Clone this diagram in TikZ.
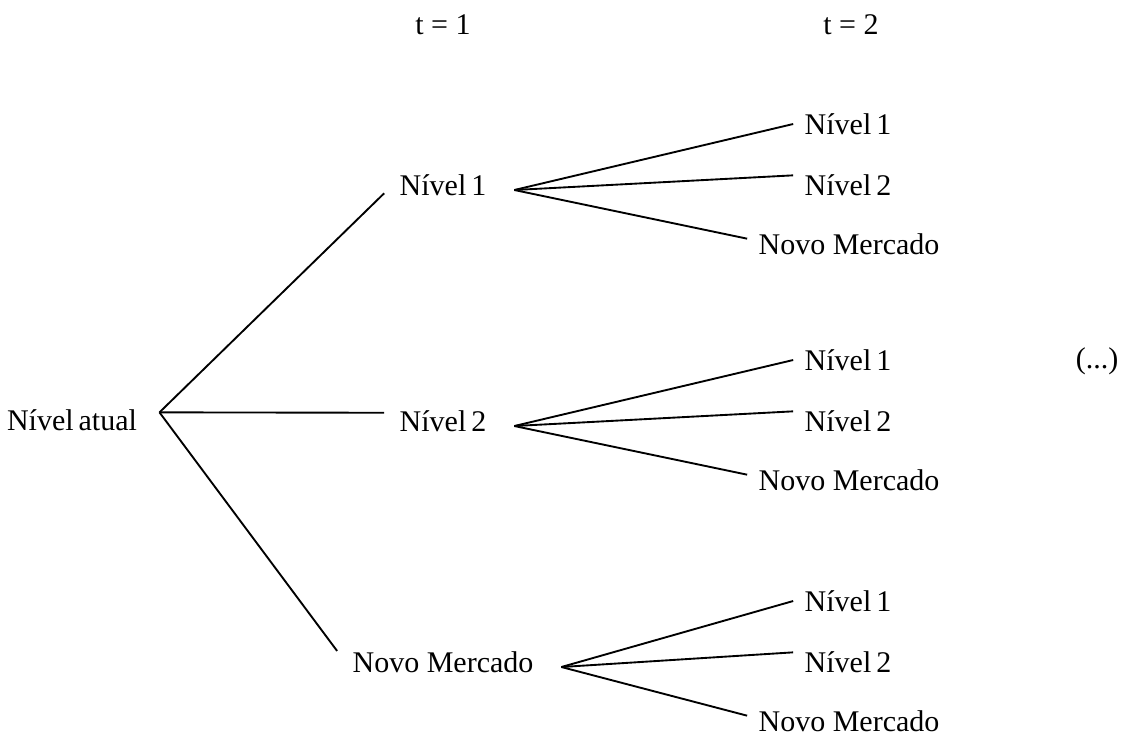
\documentclass[tikz,border=0pt]{standalone}
\usepackage{fontspec}
\setmainfont{Liberation Serif}

\tikzset{
  rotulo/.style={inner sep=0pt, font=\fontsize{12}{14}\selectfont},
  raiz/.style={rotulo, inner xsep=8.8pt},
  meio/.style={rotulo, inner xsep=6pt},
  folha/.style={rotulo, inner xsep=4.4pt},
  ramo/.style={line width=0.75pt},
}

\begin{document}
\begin{tikzpicture}[x=0.4pt, y=-0.4pt]

    \useasboundingbox (0,0) rectangle (1126,736);

    % 时间
    \node[rotulo] (t1) at (443,25) {t = 1};
    \node[rotulo] (t2) at (851,25) {t = 2};

    % 根节点
    \node[raiz] (atual) at (72,420) {Nível\,atual};

    % t = 1
    \node[meio] (a1) at (443,185) {Nível\,1};
    \node[meio] (a2) at (443,421) {Nível\,2};
    \node[meio] (a3) at (443,662) {Novo Mercado};

    \draw[ramo] (atual.5) -- (a1.188);
    \draw[ramo] (atual.5) -- (a2.172);
    \draw[ramo] (atual.5) -- (a3.north west);

    % t = 2
    \foreach \g/\y in {a1/185, a2/421, a3/662} {
      \node[folha] (\g-1) at (848,\y-61) {Nível\,1};
      \node[folha] (\g-2) at (848,\y) {Nível\,2};
      \node[folha] (\g-3) at (849,\y+59) {Novo Mercado};
      \coordinate (\g-o) at ([xshift=5pt, yshift=-2pt]\g.east);
      \draw[ramo] (\g-o) -- (\g-1.west);
      \draw[ramo] (\g-o) -- (\g-2.170);
      \draw[ramo] (\g-o) -- (\g-3.177);
    }

    % 其余
    \node[rotulo] (resto) at (1097,361) {(...)};

\end{tikzpicture}
\end{document}
